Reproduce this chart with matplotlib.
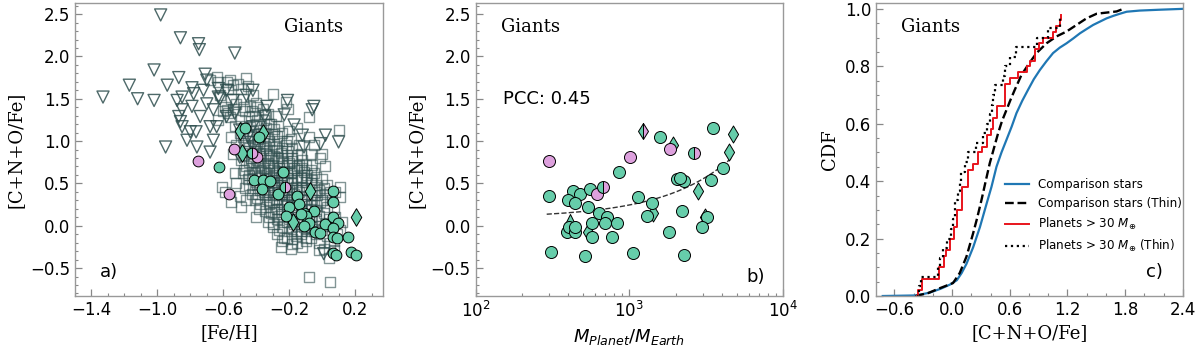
import numpy as np
import matplotlib
matplotlib.use('Agg')
import matplotlib.pyplot as plt
from matplotlib.ticker import MultipleLocator

GREEN = '#66CDAA'
PINK = '#DDA0DD'
SLATE = '#2F4F4F'

# ---------------- panel a: comparison stars (squares) ----------------
comp_feh = [
    -0.68, -0.64, -0.63, -0.62, -0.60, -0.63, -0.61, -0.59, -0.58, -0.57, -0.58, -0.59, -0.57,
    -0.56, -0.55, -0.54, -0.56, -0.53, -0.55, -0.52, -0.54, -0.53, -0.52, -0.55, -0.49, -0.51, -0.52, -0.50, -0.54, -0.46,
    -0.49, -0.48, -0.47, -0.49, -0.46, -0.48, -0.47, -0.45, -0.49, -0.46, -0.48, -0.45, -0.47, -0.50, -0.46, -0.44, -0.45, -0.43,
    -0.42, -0.41, -0.40, -0.42, -0.39, -0.41, -0.40, -0.38, -0.42, -0.39, -0.41, -0.38, -0.40, -0.42, -0.39, -0.41, -0.38, -0.40, -0.37, -0.36, -0.37,
    -0.35, -0.34, -0.33, -0.35, -0.32, -0.34, -0.31, -0.33, -0.35, -0.32, -0.30, -0.34, -0.31, -0.33, -0.35, -0.30, -0.32, -0.34, -0.31, -0.33, -0.30, -0.29, -0.30, -0.29,
    -0.28, -0.27, -0.26, -0.28, -0.25, -0.27, -0.24, -0.26, -0.28, -0.25, -0.23, -0.27, -0.24, -0.26, -0.28, -0.23, -0.25, -0.27, -0.24, -0.26, -0.23, -0.25, -0.22, -0.23, -0.22,
    -0.21, -0.20, -0.19, -0.21, -0.18, -0.20, -0.17, -0.19, -0.21, -0.18, -0.16, -0.20, -0.17, -0.19, -0.21, -0.16, -0.18, -0.20, -0.17, -0.19, -0.16, -0.18, -0.19, -0.15, -0.15,
    -0.14, -0.13, -0.12, -0.14, -0.11, -0.13, -0.10, -0.12, -0.14, -0.11, -0.09, -0.13, -0.10, -0.12, -0.14, -0.09, -0.11, -0.13, -0.10, -0.12, -0.08, -0.09, -0.08,
    -0.07, -0.06, -0.05, -0.07, -0.04, -0.06, -0.03, -0.05, -0.07, -0.04, -0.02, -0.06, -0.03, -0.05, -0.07, -0.02, -0.02, -0.01, -0.02, -0.01,
    0.00, 0.01, 0.02, 0.00, 0.03, 0.01, 0.04, 0.02, 0.00, 0.03, 0.05, 0.01, 0.04, 0.03, 0.05,
    0.06, 0.07, 0.08, 0.06, 0.09, 0.07, 0.07, 0.08, 0.10, 0.11, 0.11, 0.12, 0.11, 0.05,
    -0.45, -0.40, -0.36, -0.33, -0.31, -0.15, -0.08, -0.05, 0.00, 0.02, -0.22, -0.08, -0.30,
]
comp_cno = [
    1.72, 1.76, 1.70, 1.55, 1.35, 1.25, 0.46, 0.40, 1.70, 1.62, 1.37, 1.40, 1.33,
    1.72, 1.50, 1.38, 1.28, 1.18, 1.05, 0.95, 0.85, 0.62, 0.50, 0.28, 0.22, 1.68, 1.44, 1.10, 1.66, 1.74,
    1.62, 1.50, 1.35, 1.25, 1.18, 1.05, 0.95, 0.88, 0.78, 0.70, 0.62, 0.55, 0.45, 0.35, 0.30, 1.42, 1.00, 0.80,
    1.55, 1.30, 1.20, 1.12, 1.02, 0.95, 0.88, 0.82, 0.75, 0.70, 0.62, 0.58, 0.52, 0.45, 0.38, 0.30, 0.20, 0.10, 1.10, 0.92, 0.65,
    1.25, 1.15, 1.05, 0.98, 0.90, 0.85, 0.80, 0.74, 0.68, 0.62, 0.58, 0.55, 0.50, 0.44, 0.40, 0.36, 0.30, 0.22, 0.15, 0.05, -0.02, 1.08, 0.72, 0.46,
    1.30, 1.18, 1.00, 0.93, 0.86, 0.80, 0.75, 0.68, 0.62, 0.58, 0.52, 0.48, 0.42, 0.36, 0.30, 0.26, 0.20, 0.12, 0.05, -0.05, -0.15, -0.25, 0.95, 0.65, 0.35,
    1.38, 1.12, 1.02, 0.88, 0.80, 0.74, 0.68, 0.62, 0.56, 0.50, 0.46, 0.42, 0.38, 0.32, 0.25, 0.22, 0.16, 0.08, 0.02, -0.06, -0.12, -0.22, -0.28, 0.70, 0.30,
    0.95, 0.85, 0.78, 0.72, 0.64, 0.58, 0.52, 0.46, 0.40, 0.35, 0.30, 0.26, 0.20, 0.14, 0.08, 0.04, -0.02, -0.10, -0.18, -0.25, -0.61, 0.60, 0.12,
    0.85, 0.72, 0.62, 0.55, 0.48, 0.42, 0.36, 0.30, 0.24, 0.18, 0.12, 0.06, 0.00, -0.06, -0.14, -0.20, -0.29, 0.80, 0.42, 0.28,
    0.55, 0.45, 0.38, 0.30, 0.22, 0.15, 0.08, 0.02, -0.05, -0.12, -0.20, -0.28, -0.38, 0.48, 0.40,
    0.30, 0.20, 0.10, 0.00, -0.10, -0.18, -0.29, 0.40, 1.13, 0.46, 0.34, 0.05, -0.05, -0.67,
    1.65, 1.45, 1.38, 1.32, 1.20, 1.15, 1.05, 0.95, 0.85, 0.70, 1.46, 1.29, 1.56,
]
# dense core of the comparison sample
core_feh = [
    -0.475, -0.475, -0.475, -0.475, -0.475,
    -0.445, -0.445, -0.445, -0.445, -0.445, -0.445,
    -0.425, -0.425, -0.425, -0.425, -0.425, -0.425,
    -0.395, -0.395, -0.395, -0.395, -0.395, -0.395, -0.395, -0.395,
    -0.375, -0.375, -0.375, -0.375, -0.375, -0.375, -0.375,
    -0.345, -0.345, -0.345, -0.345, -0.345, -0.345, -0.345, -0.345,
    -0.325, -0.325, -0.325, -0.325, -0.325, -0.325, -0.325, -0.325,
    -0.295, -0.295, -0.295, -0.295, -0.295, -0.295, -0.295, -0.295, -0.295,
    -0.275, -0.275, -0.275, -0.275, -0.275, -0.275, -0.275, -0.275, -0.275, -0.275,
    -0.245, -0.245, -0.245, -0.245, -0.245, -0.245, -0.245, -0.245, -0.245, -0.245, -0.245,
    -0.215, -0.215, -0.215, -0.215, -0.215, -0.215, -0.215, -0.215, -0.215, -0.215,
    -0.185, -0.185, -0.185, -0.185, -0.185, -0.185, -0.185, -0.185, -0.185, -0.185,
    -0.155, -0.155, -0.155, -0.155, -0.155, -0.155, -0.155, -0.155, -0.155,
    -0.125, -0.125, -0.125, -0.125, -0.125, -0.125, -0.125,
    -0.095, -0.095, -0.095, -0.095, -0.095, -0.095, -0.095,
    -0.065, -0.065, -0.065, -0.065, -0.065, -0.065,
    -0.035, -0.035, -0.035, -0.035, -0.035,
]
core_cno = [
    1.40, 1.15, 0.98, 0.83, 0.66,
    1.28, 1.12, 0.92, 0.75, 0.60, 0.48,
    1.36, 1.05, 0.85, 0.68, 0.55, 0.38,
    1.40, 1.25, 1.08, 0.96, 0.78, 0.64, 0.48, 0.33,
    1.18, 1.00, 0.86, 0.72, 0.56, 0.42, 0.26,
    1.32, 1.10, 0.94, 0.78, 0.64, 0.50, 0.36, 0.18,
    1.20, 1.00, 0.84, 0.70, 0.56, 0.40, 0.26, 0.10,
    1.14, 0.96, 0.82, 0.66, 0.52, 0.40, 0.28, 0.16, 0.02,
    1.06, 0.90, 0.76, 0.64, 0.54, 0.44, 0.32, 0.20, 0.08, -0.10,
    1.10, 0.92, 0.80, 0.70, 0.60, 0.48, 0.38, 0.28, 0.14, -0.02, -0.18,
    1.00, 0.84, 0.72, 0.62, 0.52, 0.40, 0.30, 0.18, 0.04, -0.14,
    0.92, 0.76, 0.64, 0.54, 0.44, 0.34, 0.24, 0.10, -0.02, -0.16,
    0.84, 0.66, 0.56, 0.42, 0.34, 0.18, 0.06, -0.06, -0.20,
    0.68, 0.54, 0.42, 0.30, 0.18, 0.06, -0.06,
    0.72, 0.56, 0.44, 0.26, 0.14, -0.04, -0.14,
    0.66, 0.50, 0.36, 0.20, 0.10, -0.02,
    0.58, 0.40, 0.24, 0.08, -0.10,
]

# ---------------- panel a: other comparison stars (triangles) ----------------
tri_feh = [
    -0.98, -0.86, -0.75, -0.745, -0.53, -1.02, -1.17, -1.33, -1.12, -1.02,
    -0.94, -0.87, -0.88, -0.85, -0.79, -0.78, -0.79, -0.71, -0.70, -0.63,
    -0.70, -0.87, -0.86, -0.85, -0.80, -0.765, -0.95, -0.76, -0.68, -0.66,
    -0.64, -0.58, -0.54, -0.58, -0.46, -0.42, -0.335, -0.21, -0.23, -0.17,
    -0.05, -0.12, -0.11, -0.01, 0.02, 0.10, -0.53, -0.50, -0.45, -0.66,
    -0.74, -0.06, 0.01, -0.63, -0.72, -0.42, -0.50, -0.68, -0.82, -0.85,
    -0.42, -0.35, -0.62,
]
tri_cno = [
    2.49, 2.22, 2.15, 2.08, 2.04, 1.84, 1.66, 1.52, 1.50, 1.48,
    1.66, 1.75, 1.48, 1.52, 1.63, 1.56, 1.41, 1.79, 1.72, 1.62,
    1.44, 1.29, 1.23, 1.17, 1.11, 1.11, 0.93, 0.93, 0.87, 1.01,
    1.17, 1.29, 1.48, 1.60, 1.54, 1.60, 1.41, 1.48, 1.31, 1.19,
    1.41, 1.07, 0.93, 0.97, 1.07, 0.99, 1.33, 1.13, 1.05, 1.37,
    1.29, 1.37, -0.33, 1.52, 1.60, 0.93, 0.81, 1.17, 1.01, 1.37,
    1.17, 1.29, 1.50,
]

# ---------------- panel a: planet hosts ----------------
host_feh = [-0.467, -0.386, -0.623, -0.413, -0.36, -0.316, -0.366, -0.239, -0.269, -0.15,
            -0.138, -0.20, -0.052, -0.109, -0.22, -0.099, -0.077, -0.107, -0.13, -0.042,
            -0.012, 0.019, 0.066, 0.066, 0.066, 0.094, 0.066, 0.066, 0.09, 0.155,
            0.066, 0.087, 0.175, 0.205]
host_cno = [1.15, 1.05, 0.69, 0.54, 0.54, 0.53, 0.43, 0.64, 0.37, 0.35,
            0.26, 0.22, 0.18, 0.15, 0.11, 0.11, 0.035, 0.00, 0.14, -0.07,
            -0.08, 0.02, 0.41, 0.28, 0.10, 0.035, -0.03, -0.13, -0.14, -0.13,
            -0.32, -0.35, -0.31, -0.35]
hostd_feh = [-0.487, -0.356, -0.50, -0.072, -0.178, 0.205]
hostd_cno = [0.855, 1.09, 1.12, 0.41, 0.05, 0.10]
hostp_feh = [-0.396, -0.537, -0.755, -0.564]
hostp_cno = [0.815, 0.906, 0.764, 0.374]
hosth_feh = [-0.427, -0.228]
hosth_cno = [0.855, 0.453]

# ---------------- panel b: planet masses ----------------
pl_mass = [300, 308, 391, 406, 443, 443, 428, 477, 400, 443,
           554, 541, 569, 569, 637, 711, 693, 767, 826, 514,
           1050, 856, 1143, 1396, 1295, 1582, 1820, 2190, 2266, 2050,
           2277, 2130, 3484, 3381, 4083, 3186, 2953]
pl_cno = [0.35, -0.315, -0.071, -0.012, -0.071, -0.02, 0.413, 0.374, 0.303, 0.272,
          0.43, 0.224, 0.028, -0.13, 0.146, 0.106, 0.035, -0.137, 0.028, -0.358,
          -0.326, 0.638, 0.343, 0.264, 0.115, 1.051, -0.071, 0.173, -0.35, 0.548,
          0.531, 0.56, 1.15, 0.54, 0.685, 0.10, -0.02]
pld_mass = [1932, 2807, 4700, 4470, 1431, 3103, 541]
pld_cno = [0.953, 0.41, 1.079, 0.866, 0.146, 0.106, -0.07]
plp_mass = [618, 1837, 1009, 300]
plp_cno = [0.374, 0.906, 0.815, 0.764]
plh_mass = [676, 2633]
plh_cno = [0.453, 0.855]
plhd_mass = [1231]
plhd_cno = [1.118]
plt_mass = [411]
plt_cno = [0.067]
fit_intercept = 0.092
fit_slope = 1.53e-4
fit_range = [290, 4700]

# ---------------- panel c: cumulative distributions ----------------
cdf_comp_x = [-0.72, -0.37, -0.23, -0.12, -0.02, 0.05, 0.10, 0.15, 0.22, 0.29, 0.358, 0.41,
              0.462, 0.514, 0.566, 0.62, 0.67, 0.73, 0.79, 0.85, 0.913, 0.98, 1.05, 1.12,
              1.19, 1.26, 1.33, 1.40, 1.467, 1.54, 1.607, 1.68, 1.745, 1.815, 1.95, 2.16, 2.4]
cdf_comp_y = [0.0, 0.002, 0.012, 0.025, 0.04, 0.055, 0.08, 0.112, 0.17, 0.24, 0.32, 0.38,
              0.45, 0.50, 0.544, 0.59, 0.637, 0.68, 0.718, 0.755, 0.787, 0.817, 0.846, 0.865,
              0.88, 0.897, 0.915, 0.93, 0.944, 0.956, 0.967, 0.976, 0.983, 0.99, 0.994, 0.997, 1.0]
cdf_thin_x = [-0.38, -0.25, -0.128, 0.01, 0.08, 0.15, 0.219, 0.26, 0.306, 0.35, 0.392, 0.44,
              0.479, 0.52, 0.566, 0.61, 0.652, 0.722, 0.791, 0.878, 0.982, 1.086, 1.19, 1.294,
              1.398, 1.503, 1.607, 1.711, 1.78]
cdf_thin_y = [0.0, 0.01, 0.027, 0.045, 0.08, 0.137, 0.218, 0.27, 0.334, 0.40, 0.462, 0.52,
              0.567, 0.61, 0.648, 0.685, 0.718, 0.770, 0.805, 0.846, 0.880, 0.904, 0.921, 0.944,
              0.967, 0.983, 0.987, 0.991, 1.0]
host_cno_sorted = [-0.36, -0.354, -0.308, -0.308, -0.135, -0.135, -0.086, -0.086, -0.058, -0.024,
                   -0.024, 0.021, 0.021, 0.049, 0.049, 0.049, 0.107, 0.107, 0.107, 0.107,
                   0.17, 0.17, 0.17, 0.222, 0.274, 0.274, 0.309, 0.361, 0.361, 0.40,
                   0.43, 0.43, 0.465, 0.465, 0.552, 0.552, 0.552, 0.552, 0.604, 0.69,
                   0.777, 0.81, 0.864, 0.864, 0.908, 0.95, 1.054, 1.082, 1.124, 1.137]
host_thin_cno_sorted = [-0.36, -0.345, -0.32, -0.146, -0.12, -0.09, -0.052, -0.006, 0.015, 0.028,
                        0.035, 0.063, 0.085, 0.098, 0.132, 0.167, 0.254, 0.323, 0.36, 0.39,
                        0.415, 0.43, 0.444, 0.531, 0.55, 0.60, 0.66, 0.878, 1.0, 1.12]

SERIF = 'DejaVu Serif'
fig = plt.figure(figsize=(12, 3.45), dpi=100)
axA = fig.add_axes([0.0625, 0.142, 0.2567, 0.849])
axB = fig.add_axes([0.3964, 0.142, 0.256, 0.849])
axC = fig.add_axes([0.730, 0.142, 0.2558, 0.849])


def style(ax):
    for s in ax.spines.values():
        s.set_color('#999999')
        s.set_linewidth(1.0)
    ax.tick_params(which='both', direction='in', color='#888888', labelcolor='black',
                   labelsize=12, top=False, right=False)
    ax.tick_params(which='major', length=5, width=0.9)
    ax.tick_params(which='minor', length=2.5, width=0.8)


# ---- panel a ----
style(axA)
axA.scatter(comp_feh + core_feh, comp_cno + core_cno, marker='s', s=52, facecolors='none',
            edgecolors=SLATE, alpha=0.6, linewidths=1.0, zorder=1)
axA.scatter(tri_feh, tri_cno, marker='v', s=75, facecolors='none', edgecolors=SLATE,
            alpha=0.85, linewidths=1.0, zorder=1)
axA.scatter(hostd_feh, hostd_cno, marker='d', s=80, c=GREEN, edgecolors='k', linewidths=0.7, zorder=3)
axA.scatter(host_feh, host_cno, marker='o', s=60, c=GREEN, edgecolors='k', linewidths=0.7, zorder=3)
axA.scatter(hostp_feh, hostp_cno, marker='o', s=60, c=PINK, edgecolors='k', linewidths=0.7, zorder=3)
axA.plot(hosth_feh, hosth_cno, ls='none', marker='o', ms=7.7, fillstyle='left',
         markerfacecolor=GREEN, markerfacecoloralt=PINK, markeredgecolor='k', markeredgewidth=0.7, zorder=3)
axA.set_xlim(-1.5, 0.37)
axA.set_ylim(-0.83, 2.63)
axA.set_xticks([-1.4, -1.0, -0.6, -0.2, 0.2])
axA.xaxis.set_minor_locator(MultipleLocator(0.1))
axA.yaxis.set_major_locator(MultipleLocator(0.5))
axA.yaxis.set_minor_locator(MultipleLocator(0.1))
axA.set_xlabel('[Fe/H]', family=SERIF, fontsize=13)
axA.set_ylabel('[C+N+O/Fe]', family=SERIF, fontsize=13)
axA.text(0.68, 0.918, 'Giants', transform=axA.transAxes, family=SERIF, fontsize=13, va='center', ha='left')
axA.text(0.08, 0.082, 'a)', transform=axA.transAxes, fontsize=13, va='center', ha='left')

# ---- panel b ----
style(axB)
axB.set_xscale('log')
fx = np.linspace(fit_range[0], fit_range[1], 200)
axB.plot(fx, fit_intercept + fit_slope * fx, ls='--', color='#333333', lw=1.0, zorder=2)
axB.scatter(plt_mass, plt_cno, marker='^', s=75, c=GREEN, edgecolors='k', linewidths=0.7, zorder=3)
axB.scatter(pld_mass, pld_cno, marker='d', s=75, c=GREEN, edgecolors='k', linewidths=0.7, zorder=3)
axB.plot(plhd_mass, plhd_cno, ls='none', marker='d', ms=8.6, fillstyle='left',
         markerfacecolor=GREEN, markerfacecoloralt=PINK, markeredgecolor='k', markeredgewidth=0.7, zorder=3)
axB.scatter(pl_mass, pl_cno, marker='o', s=75, c=GREEN, edgecolors='k', linewidths=0.7, zorder=4)
axB.scatter(plp_mass, plp_cno, marker='o', s=75, c=PINK, edgecolors='k', linewidths=0.7, zorder=4)
axB.plot(plh_mass, plh_cno, ls='none', marker='o', ms=8.6, fillstyle='left',
         markerfacecolor=GREEN, markerfacecoloralt=PINK, markeredgecolor='k', markeredgewidth=0.7, zorder=4)
axB.set_xlim(100, 1e4)
axB.set_ylim(-0.83, 2.63)
axB.yaxis.set_major_locator(MultipleLocator(0.5))
axB.yaxis.set_minor_locator(MultipleLocator(0.1))
axB.set_xlabel(r'$M_{Planet}/M_{Earth}$', fontsize=13)
axB.set_ylabel('[C+N+O/Fe]', family=SERIF, fontsize=13)
axB.text(0.082, 0.918, 'Giants', transform=axB.transAxes, family=SERIF, fontsize=13, va='center', ha='left')
axB.text(0.088, 0.671, 'PCC: 0.45', transform=axB.transAxes, fontsize=13, va='center', ha='left')
axB.text(0.942, 0.066, 'b)', transform=axB.transAxes, fontsize=13, va='center', ha='right')

# ---- panel c ----
style(axC)
axC.plot(cdf_comp_x, cdf_comp_y, color='#1f77b4', lw=1.6, label='Comparison stars')
axC.plot(cdf_thin_x, cdf_thin_y, color='k', ls='--', lw=1.7, label='Comparison stars (Thin)')
n1 = len(host_cno_sorted)
axC.step(host_cno_sorted, np.arange(n1) / n1, where='post', color='#e8141c', lw=1.4,
         label=r'Planets > 30 $M_{\oplus}$')
n2 = len(host_thin_cno_sorted)
axC.step(host_thin_cno_sorted, np.arange(n2) / n2, where='post', color='k', ls=':', lw=1.6,
         label=r'Planets > 30 $M_{\oplus}$ (Thin)')
axC.set_xlim(-0.79, 2.4)
axC.set_ylim(0, 1.02)
axC.xaxis.set_major_locator(MultipleLocator(0.6))
axC.xaxis.set_minor_locator(MultipleLocator(0.2))
axC.yaxis.set_major_locator(MultipleLocator(0.2))
axC.yaxis.set_minor_locator(MultipleLocator(0.05))
axC.set_xlabel('[C+N+O/Fe]', family=SERIF, fontsize=13)
axC.set_ylabel('CDF', family=SERIF, fontsize=13)
axC.text(0.081, 0.918, 'Giants', transform=axC.transAxes, family=SERIF, fontsize=13, va='center', ha='left')
axC.text(0.935, 0.083, 'c)', transform=axC.transAxes, fontsize=13, va='center', ha='right')
axC.legend(loc='upper left', bbox_to_anchor=(0.385, 0.44), frameon=False, fontsize=8.6)

fig.savefig('out.png', dpi=100)
